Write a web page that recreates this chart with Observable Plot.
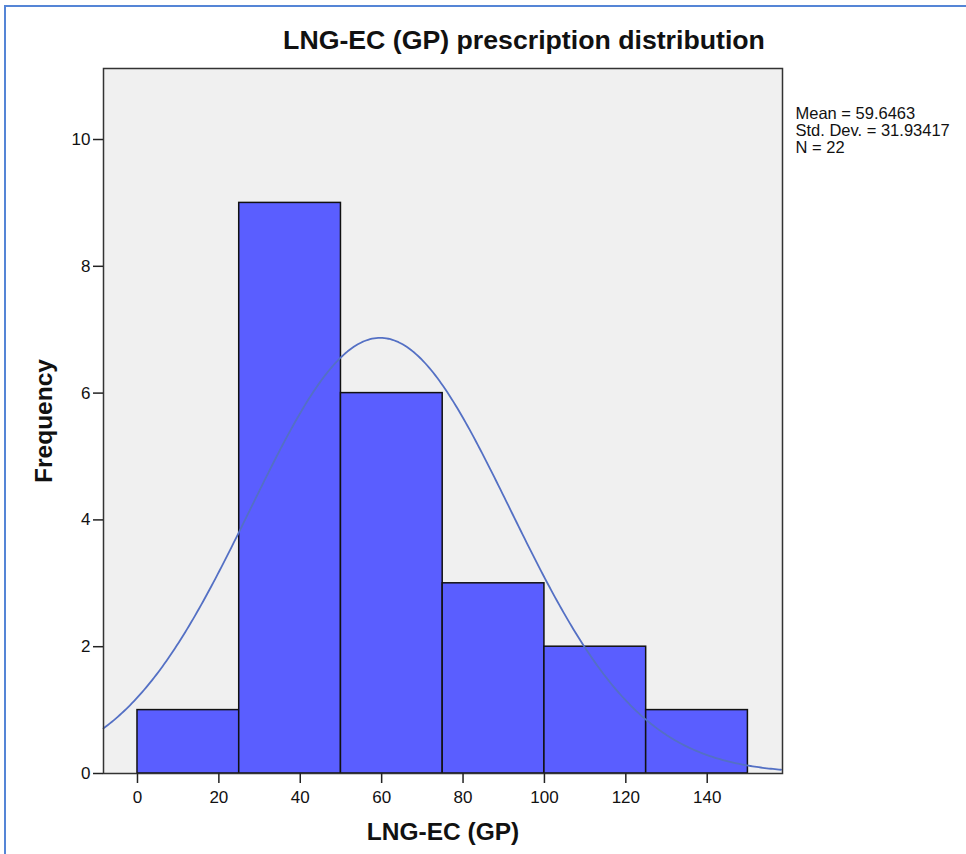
<!DOCTYPE html>
<html><head><meta charset="utf-8">
<script src="https://cdn.jsdelivr.net/npm/d3@7"></script>
<script src="https://cdn.jsdelivr.net/npm/@observablehq/plot@0.6"></script>
<style>
html,body{margin:0;padding:0;background:#fff;overflow:hidden;width:966px;height:854px;}
#border{position:absolute;left:4px;top:5px;width:1200px;height:1200px;border-left:2px solid #5585d6;border-top:2px solid #5585d6;}
#chart{position:absolute;left:0;top:0;}
</style></head><body>
<div id="border"></div>
<div id="chart"></div>
<script>
// Histogram bins (lower edge, upper edge) and frequencies
const binStarts = [0, 25, 50, 75, 100, 125];
const binEnds = [25, 50, 75, 100, 125, 150];
const frequencies = [1, 9, 6, 3, 2, 1];
// Axis ticks
const xTicks = [0, 20, 40, 60, 80, 100, 120, 140];
const yTicks = [0, 2, 4, 6, 8, 10];
// Summary statistics shown in the chart
const statMean = 59.6463;
const statSD = 31.93417;
const statN = 22;
const binWidth = 25;
const statLines = ["Mean = 59.6463", "Std. Dev. = 31.93417", "N = 22"];
const titleText = "LNG-EC (GP) prescription distribution";
const xLabel = "LNG-EC (GP)";
const yLabel = "Frequency";

const xDomain = [-8.35, 158.5];
const yDomain = [0, 11.12];

const bins = binStarts.map((s, i) => ({x1: s, x2: binEnds[i], y: frequencies[i]}));
// Fitted normal curve defined by the chart's stated mean, SD and N
const scale = statN * binWidth / (statSD * Math.sqrt(2 * Math.PI));
const curve = d3.range(xDomain[0], xDomain[1] + 0.01, 0.5).map(x => ({
  x, y: scale * Math.exp(-0.5 * ((x - statMean) / statSD) ** 2)
}));

const font = "'Liberation Sans', Arial, sans-serif";
const chart = Plot.plot({
  width: 966, height: 854,
  marginLeft: 103, marginRight: 184, marginTop: 68, marginBottom: 81,
  style: {fontFamily: font, fontSize: "17px", color: "#111", background: "transparent", overflow: "visible"},
  x: {domain: xDomain},
  y: {domain: yDomain},
  marks: [
    Plot.frame({fill: "#f0f0f0", stroke: null}),
    Plot.rectY(bins, {x1: "x1", x2: "x2", y: "y", fill: "#5a5eff", stroke: "#111", strokeWidth: 1.5}),
    Plot.line(curve, {x: "x", y: "y", stroke: "#5470c4", strokeWidth: 1.8}),
    Plot.frame({stroke: "#333", strokeWidth: 1.5}),
    Plot.axisX({ticks: xTicks, tickSize: 10, tickPadding: 7, label: null, fontSize: 17, stroke: "#222", strokeWidth: 1.5, fill: "#111"}),
    Plot.axisY({ticks: yTicks, tickSize: 10, tickPadding: 3, label: null, fontSize: 17, stroke: "#222", strokeWidth: 1.5, fill: "#111"}),
    Plot.text([titleText], {frameAnchor: "top", lineAnchor: "middle", dx: 81, dy: -28, fontWeight: "bold", fontSize: 26.7, fill: "#111"}),
    Plot.text([statLines.join("\n")], {frameAnchor: "top-right", textAnchor: "start", lineAnchor: "top", dx: 13, dy: 38, fontSize: 16.5, lineHeight: 1.03, fill: "#111"}),
    Plot.text([xLabel], {frameAnchor: "bottom", lineAnchor: "middle", dy: 59, fontWeight: "bold", fontSize: 24.5, fill: "#111"}),
    Plot.text([yLabel], {frameAnchor: "left", textAnchor: "middle", lineAnchor: "middle", rotate: -90, dx: -59, dy: 0, fontWeight: "bold", fontSize: 24.5, fill: "#111"})
  ]
});
document.getElementById("chart").appendChild(chart);
</script>
</body></html>
